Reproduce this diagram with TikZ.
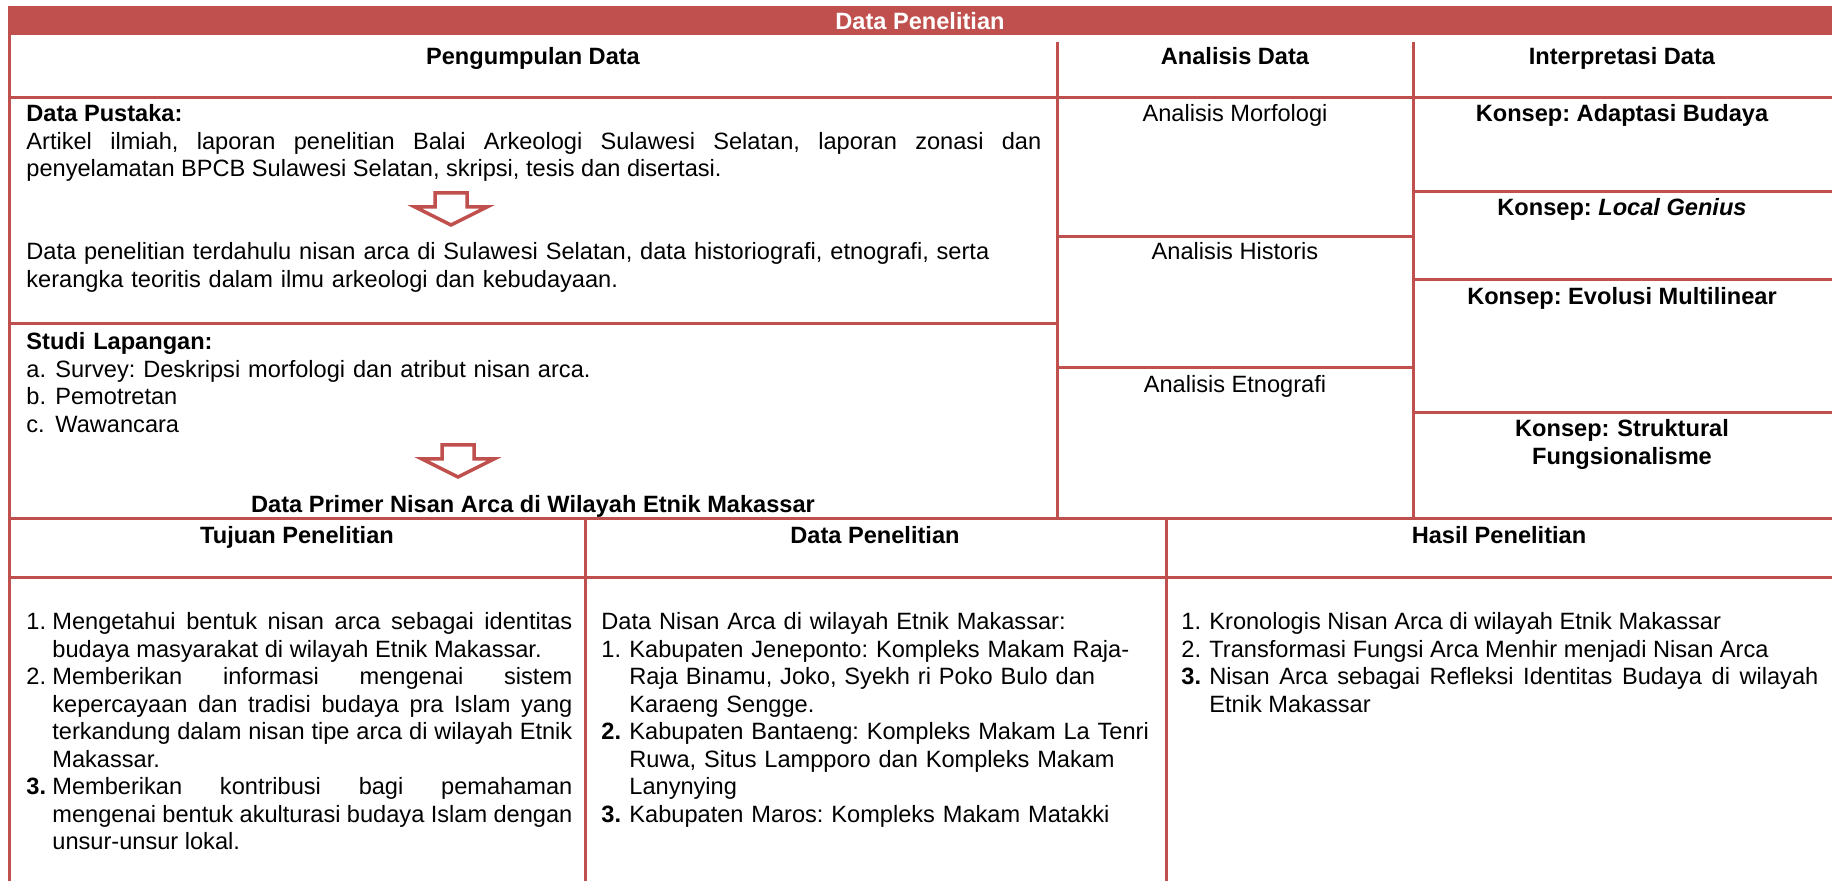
\documentclass[tikz,border=0pt]{standalone}
\usepackage{fontspec}
\setmainfont{Liberation Sans}
\usetikzlibrary{positioning}
\definecolor{tabred}{HTML}{C0504D}
\frenchspacing
\hyphenpenalty=10000
\newlength{\lblw}
\newcommand{\itm}[2]{\noindent\hangindent=\lblw\hangafter=1\makebox[\lblw][l]{#1}#2\par}

\begin{document}
\begin{tikzpicture}
  [x=0.5pt,y=-0.5pt,
   every node/.style={inner sep=0pt,font=\fontsize{11.8}{13.75}\selectfont},
   cellline/.style={draw=tabred,line width=1.5pt},
   head/.style={anchor=base,font=\fontsize{11.8}{13.75}\selectfont\bfseries},
   body/.style={anchor=base west,align=left},
   just/.style={anchor=base west,align=justify},
   mid/.style={anchor=base,align=center,text width=200pt},
   hollow/.style={draw=tabred,line width=1.75pt,fill=white,line join=miter}]
  \useasboundingbox (0,0) rectangle (1832,881);

  \fill[tabred] (8,6) rectangle (1832,35);
  \node[head,text=white] (title) at (920,30) {Data Penelitian};

  \foreach \xa/\ya/\xb/\yb in {9/6/9/881, 9/98/1832/98, 1057/42/1057/519, 1413/42/1413/519,
      9/324/1057/324, 1057/237/1413/237, 1057/368/1413/368,
      1413/192/1832/192, 1413/280/1832/280, 1413/413/1832/413,
      9/519/1832/519, 585/519/585/881, 1166/519/1166/881, 9/578/1832/578}
    \draw[cellline] (\xa,\ya) -- (\xb,\yb);

  \foreach \ax/\ay in {451/193, 458/445}
    \draw[hollow] (\ax,\ay) ++(-16,0) -- ++(32,0) -- ++(0,14) -- ++(20,0)
      -- ++(-36,18) -- ++(-36,-18) -- ++(20,0) -- cycle;

  \node[head] (hpeng) at (533,65) {Pengumpulan Data};
  \node[head] (hanal) at (1235,65) {Analisis Data};
  \node[head] (hint) at (1622,65) {Interpretasi Data};

  \node[just,text width=507.5pt] (pustaka) at (26,122)
    {\textbf{Data Pustaka:}\\
     Artikel ilmiah, laporan penelitian Balai Arkeologi Sulawesi Selatan, laporan zonasi dan\linebreak
     penyelamatan BPCB Sulawesi Selatan, skripsi, tesis dan disertasi.};
  \node[body,text width=520pt] (terdahulu) at (26,260)
    {Data penelitian terdahulu nisan arca di Sulawesi Selatan, data historiografi, etnografi, serta\\
     kerangka teoritis dalam ilmu arkeologi dan kebudayaan.};
  \node[body,text width=500pt] (lapangan) at (26,350)
    {\setlength{\lblw}{14.5pt}\textbf{Studi Lapangan:}\par
     \itm{a.}{Survey: Deskripsi morfologi dan atribut nisan arca.}
     \itm{b.}{Pemotretan}
     \itm{c.}{Wawancara}};
  \node[head] (primer) at (533,513) {Data Primer Nisan Arca di Wilayah Etnik Makassar};

  \node[anchor=base] (morf) at (1235,122) {Analisis Morfologi};
  \node[anchor=base] (hist) at (1235,260) {Analisis Historis};
  \node[anchor=base] (etno) at (1235,393) {Analisis Etnografi};

  \node[head] (adapt) at (1622,122) {Konsep: Adaptasi Budaya};
  \node[head] (local) at (1622,216) {Konsep: \textit{Local Genius}};
  \node[head] (evol) at (1622,305) {Konsep: Evolusi Multilinear};
  \node[head,mid] (struk) at (1622,437) {Konsep: Struktural\\Fungsionalisme};

  \node[head] (htujuan) at (297,544) {Tujuan Penelitian};
  \node[head] (hdata) at (875,544) {Data Penelitian};
  \node[head] (hhasil) at (1499,544) {Hasil Penelitian};

  \node[just,text width=273pt] (tujuan) at (26,630)
    {\setlength{\lblw}{13pt}%
     \itm{1.}{Mengetahui bentuk nisan arca sebagai identitas\linebreak
       budaya masyarakat di wilayah Etnik Makassar.}
     \itm{2.}{Memberikan informasi mengenai sistem\linebreak
       kepercayaan dan tradisi budaya pra Islam yang\linebreak
       terkandung dalam nisan tipe arca di wilayah Etnik\linebreak Makassar.}
     \itm{\textbf{3.}}{Memberikan kontribusi bagi pemahaman\linebreak
       mengenai bentuk akulturasi budaya Islam dengan\linebreak unsur-unsur lokal.}};
  \node[body,text width=290pt] (data) at (601,630)
    {\setlength{\lblw}{14pt}Data Nisan Arca di wilayah Etnik Makassar:\par
     \itm{1.}{Kabupaten Jeneponto: Kompleks Makam Raja-\newline
       Raja Binamu, Joko, Syekh ri Poko Bulo dan\newline Karaeng Sengge.}
     \itm{\textbf{2.}}{Kabupaten Bantaeng: Kompleks Makam La Tenri\newline
       Ruwa, Situs Lampporo dan Kompleks Makam\newline Lanynying}
     \itm{\textbf{3.}}{Kabupaten Maros: Kompleks Makam Matakki}};
  \node[just,text width=318.5pt] (hasil) at (1181,630)
    {\setlength{\lblw}{14pt}%
     \itm{1.}{Kronologis Nisan Arca di wilayah Etnik Makassar}
     \itm{2.}{Transformasi Fungsi Arca Menhir menjadi Nisan Arca}
     \itm{\textbf{3.}}{Nisan Arca sebagai Refleksi Identitas Budaya di wilayah\linebreak Etnik Makassar}};
\end{tikzpicture}
\end{document}
